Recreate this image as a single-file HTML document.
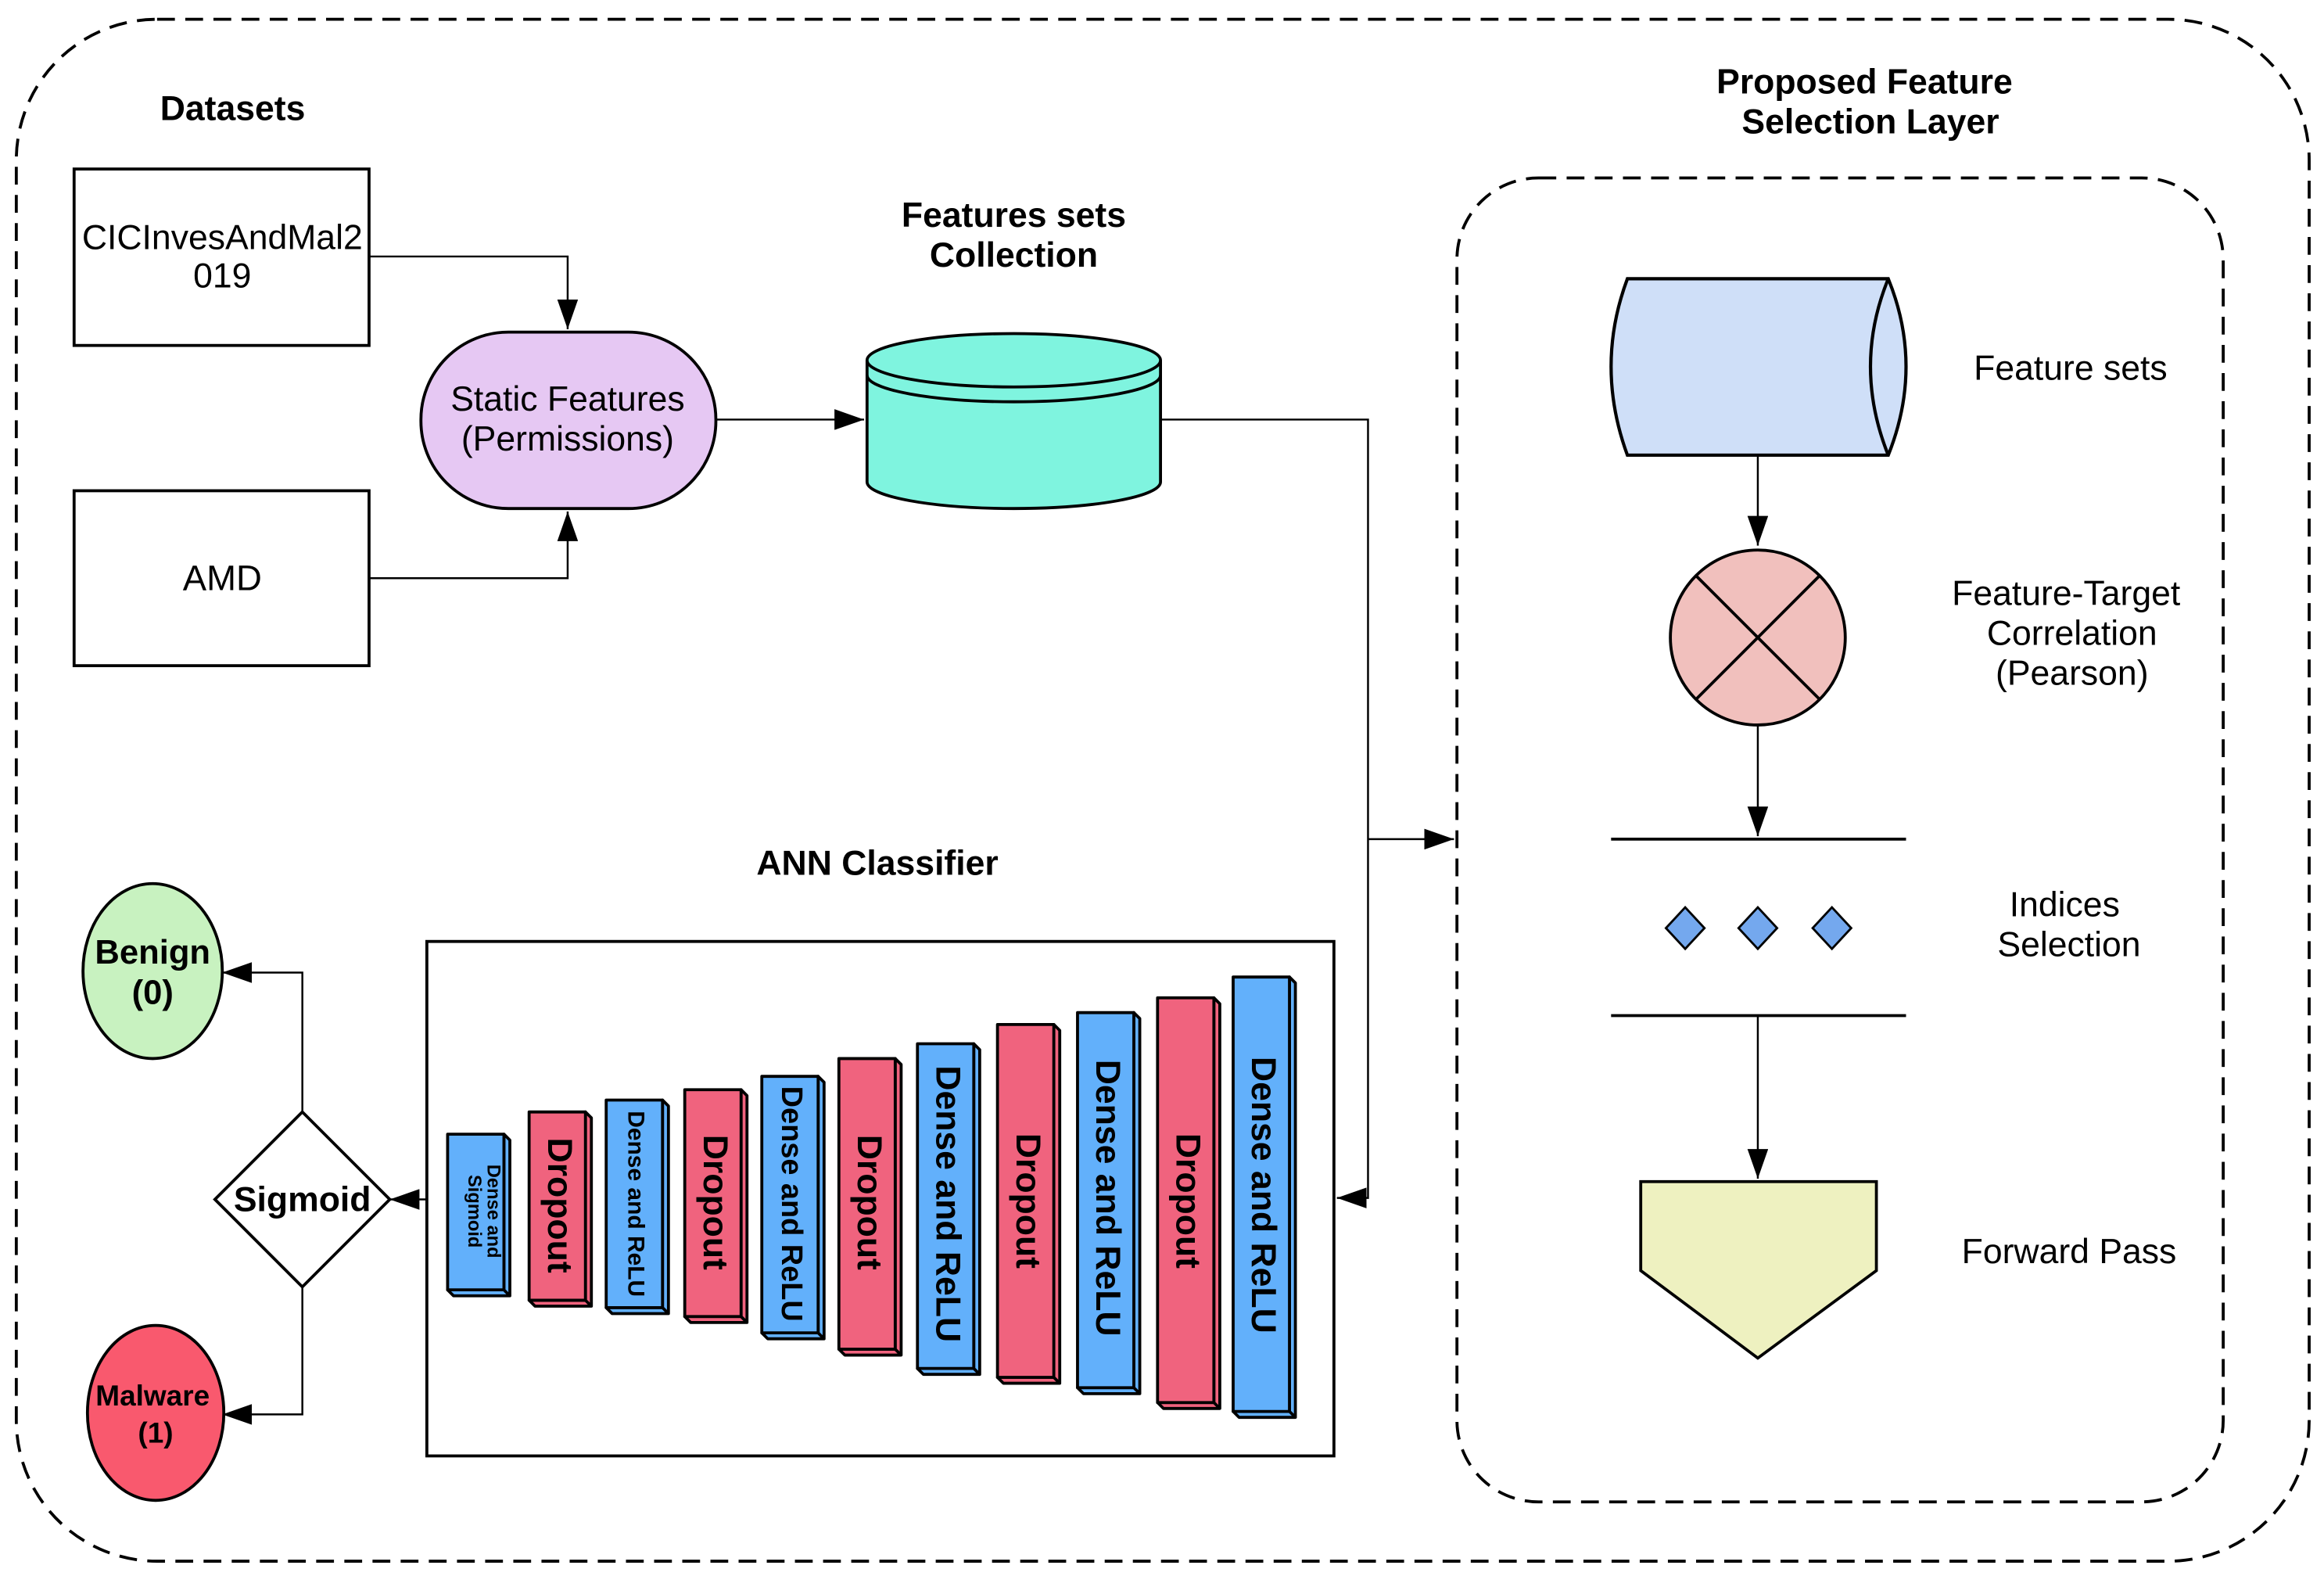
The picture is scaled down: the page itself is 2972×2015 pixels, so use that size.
<!DOCTYPE html>
<html><head><meta charset="utf-8"><style>
html,body{margin:0;padding:0;background:#fff;}
svg{display:block;}
text{font-family:"Liberation Sans",Arial,sans-serif;fill:#000;}
.b{font-weight:bold;}
</style></head><body>
<svg width="2972" height="2015" viewBox="0 0 1568 1063" preserveAspectRatio="none" xmlns="http://www.w3.org/2000/svg">
<defs>
<marker id="ar2" viewBox="0 0 20 14" refX="20" refY="7" markerWidth="20" markerHeight="14" markerUnits="userSpaceOnUse" orient="auto">
<path d="M0,0 L20,7 L0,14 z" fill="#000"/></marker>
</defs>
<rect x="0" y="0" width="1568" height="1063" fill="#fff"/>
<rect x="11" y="13" width="1547" height="1040" rx="95" ry="95" fill="none" stroke="#000" stroke-width="2" stroke-dasharray="12,7"/>
<rect x="983" y="120" width="517" height="893" rx="55" ry="55" fill="none" stroke="#000" stroke-width="2" stroke-dasharray="12,7"/>

<text x="157" y="81" class="b" font-size="23.5" text-anchor="middle">Datasets</text>
<text x="1258" y="63" class="b" font-size="23.5" text-anchor="middle">Proposed Feature</text>
<text x="1262" y="90" class="b" font-size="23.5" text-anchor="middle">Selection Layer</text>
<text x="684" y="153" class="b" font-size="23.5" text-anchor="middle">Features sets</text>
<text x="684" y="180" class="b" font-size="23.5" text-anchor="middle">Collection</text>
<text x="592" y="590" class="b" font-size="23.5" text-anchor="middle">ANN Classifier</text>

<rect x="50" y="114" width="199" height="119" fill="#fff" stroke="#000" stroke-width="2"/>
<text x="150" y="168" font-size="23.5" text-anchor="middle">CICInvesAndMal2</text>
<text x="150" y="194" font-size="23.5" text-anchor="middle">019</text>
<rect x="50" y="331" width="199" height="118" fill="#fff" stroke="#000" stroke-width="2"/>
<text x="150" y="398" font-size="24" text-anchor="middle">AMD</text>

<rect x="284" y="224" width="199" height="119" rx="59" ry="59" fill="#e6c8f3" stroke="#000" stroke-width="2"/>
<text x="383" y="277" font-size="23.5" text-anchor="middle">Static Features</text>
<text x="383" y="304" font-size="23.5" text-anchor="middle">(Permissions)</text>

<path d="M249,173 H383 V222" fill="none" stroke="#000" stroke-width="1.3" marker-end="url(#ar2)"/>
<path d="M249,390 H383 V345" fill="none" stroke="#000" stroke-width="1.3" marker-end="url(#ar2)"/>
<path d="M483,283 H583" fill="none" stroke="#000" stroke-width="1.3" marker-end="url(#ar2)"/>

<path d="M585,243 V325 A99,18 0 0 0 783,325 V243" fill="#7ff4df" stroke="#000" stroke-width="2"/>
<ellipse cx="684" cy="243" rx="99" ry="18" fill="#7ff4df" stroke="#000" stroke-width="2"/>
<path d="M585,253 A99,18 0 0 0 783,253" fill="none" stroke="#000" stroke-width="2"/>

<path d="M783,283 H923 V808 H902" fill="none" stroke="#000" stroke-width="1.3" marker-end="url(#ar2)"/>
<path d="M923,566 H981" fill="none" stroke="#000" stroke-width="1.3" marker-end="url(#ar2)"/>

<path d="M1098,188 H1274 Q1298,247 1274,307 H1098 Q1076,247 1098,188 z" fill="#cfdff8" stroke="#000" stroke-width="2.2"/>
<path d="M1274,188 Q1250,247 1274,307" fill="none" stroke="#000" stroke-width="2.2"/>
<text x="1397" y="256" font-size="23.5" text-anchor="middle">Feature sets</text>
<path d="M1186,307 V368" fill="none" stroke="#000" stroke-width="1.3" marker-end="url(#ar2)"/>

<circle cx="1186" cy="430" r="59" fill="#f1c0bd" stroke="#000" stroke-width="2"/>
<path d="M1144,388 L1228,472 M1228,388 L1144,472" stroke="#000" stroke-width="2"/>
<text x="1394" y="408" font-size="23.5" text-anchor="middle">Feature-Target</text>
<text x="1398" y="435" font-size="23.5" text-anchor="middle">Correlation</text>
<text x="1398" y="462" font-size="23.5" text-anchor="middle">(Pearson)</text>
<path d="M1186,489 V564" fill="none" stroke="#000" stroke-width="1.3" marker-end="url(#ar2)"/>

<line x1="1087" y1="566" x2="1286" y2="566" stroke="#000" stroke-width="2"/>
<line x1="1087" y1="685" x2="1286" y2="685" stroke="#000" stroke-width="2"/>
<path d="M1137,612 L1150,626 L1137,640 L1124,626 z" fill="#74a8ee" stroke="#000" stroke-width="1.5"/>
<path d="M1186,612 L1199,626 L1186,640 L1173,626 z" fill="#74a8ee" stroke="#000" stroke-width="1.5"/>
<path d="M1236,612 L1249,626 L1236,640 L1223,626 z" fill="#74a8ee" stroke="#000" stroke-width="1.5"/>
<text x="1393" y="618" font-size="23.5" text-anchor="middle">Indices</text>
<text x="1396" y="645" font-size="23.5" text-anchor="middle">Selection</text>
<path d="M1186,685 V795" fill="none" stroke="#000" stroke-width="1.3" marker-end="url(#ar2)"/>

<path d="M1107,797 H1266 V857 L1186,916 L1107,857 z" fill="#eef1c0" stroke="#000" stroke-width="2"/>
<text x="1396" y="852" font-size="23.5" text-anchor="middle">Forward Pass</text>

<rect x="288" y="635" width="612" height="347" fill="#fff" stroke="#000" stroke-width="2"/>

<g stroke="#000" stroke-width="2" stroke-linejoin="round">
<path d="M340,765 L344,769 V874 L340,870 z M302,870 L306,874 H344 L340,870 z" fill="#62b0fb"/>
<rect x="302" y="765" width="38" height="105" fill="#62b0fb"/>
<path d="M395,750 L399,754 V881 L395,877 z M357,877 L361,881 H399 L395,877 z" fill="#f0637e"/>
<rect x="357" y="750" width="38" height="127" fill="#f0637e"/>
<path d="M447,742 L451,746 V886 L447,882 z M409,882 L413,886 H451 L447,882 z" fill="#62b0fb"/>
<rect x="409" y="742" width="38" height="140" fill="#62b0fb"/>
<path d="M500,735 L504,739 V892 L500,888 z M462,888 L466,892 H504 L500,888 z" fill="#f0637e"/>
<rect x="462" y="735" width="38" height="153" fill="#f0637e"/>
<path d="M552,726 L556,730 V903 L552,899 z M514,899 L518,903 H556 L552,899 z" fill="#62b0fb"/>
<rect x="514" y="726" width="38" height="173" fill="#62b0fb"/>
<path d="M604,714 L608,718 V914 L604,910 z M566,910 L570,914 H608 L604,910 z" fill="#f0637e"/>
<rect x="566" y="714" width="38" height="196" fill="#f0637e"/>
<path d="M657,704 L661,708 V927 L657,923 z M619,923 L623,927 H661 L657,923 z" fill="#62b0fb"/>
<rect x="619" y="704" width="38" height="219" fill="#62b0fb"/>
<path d="M711,691 L715,695 V933 L711,929 z M673,929 L677,933 H715 L711,929 z" fill="#f0637e"/>
<rect x="673" y="691" width="38" height="238" fill="#f0637e"/>
<path d="M765,683 L769,687 V940 L765,936 z M727,936 L731,940 H769 L765,936 z" fill="#62b0fb"/>
<rect x="727" y="683" width="38" height="253" fill="#62b0fb"/>
<path d="M819,673 L823,677 V950 L819,946 z M781,946 L785,950 H823 L819,946 z" fill="#f0637e"/>
<rect x="781" y="673" width="38" height="273" fill="#f0637e"/>
<path d="M870,659 L874,663 V956 L870,952 z M832,952 L836,956 H874 L870,952 z" fill="#62b0fb"/>
<rect x="832" y="659" width="38" height="293" fill="#62b0fb"/>
</g>
<g class="b">
<text transform="translate(321,817) rotate(90)" font-size="12.5" font-weight="bold" text-anchor="middle"><tspan x="0" dy="-8">Dense and</tspan><tspan x="0" dy="13">Sigmoid</tspan></text>
<text transform="translate(376,813) rotate(90)" font-size="23.5" text-anchor="middle" dominant-baseline="middle" font-weight="bold">Dropout</text>
<text transform="translate(428,812) rotate(90)" font-size="15.8" text-anchor="middle" dominant-baseline="middle" font-weight="bold">Dense and ReLU</text>
<text transform="translate(481,811) rotate(90)" font-size="23.5" text-anchor="middle" dominant-baseline="middle" font-weight="bold">Dropout</text>
<text transform="translate(533,812) rotate(90)" font-size="20" text-anchor="middle" dominant-baseline="middle" font-weight="bold">Dense and ReLU</text>
<text transform="translate(585,811) rotate(90)" font-size="23.5" text-anchor="middle" dominant-baseline="middle" font-weight="bold">Dropout</text>
<text transform="translate(638,812) rotate(90)" font-size="23.5" text-anchor="middle" dominant-baseline="middle" font-weight="bold">Dense and ReLU</text>
<text transform="translate(692,810) rotate(90)" font-size="23.5" text-anchor="middle" dominant-baseline="middle" font-weight="bold">Dropout</text>
<text transform="translate(746,808) rotate(90)" font-size="23.5" text-anchor="middle" dominant-baseline="middle" font-weight="bold">Dense and ReLU</text>
<text transform="translate(800,810) rotate(90)" font-size="23.5" text-anchor="middle" dominant-baseline="middle" font-weight="bold">Dropout</text>
<text transform="translate(851,806) rotate(90)" font-size="23.5" text-anchor="middle" dominant-baseline="middle" font-weight="bold">Dense and ReLU</text>
</g>

<path d="M288,809 H263" fill="none" stroke="#000" stroke-width="1.3" marker-end="url(#ar2)"/>
<path d="M204,750 L263,809 L204,868 L145,809 z" fill="#fff" stroke="#000" stroke-width="2"/>
<text x="204" y="817" class="b" font-size="23.5" text-anchor="middle">Sigmoid</text>
<path d="M204,750 V656 H150" fill="none" stroke="#000" stroke-width="1.3" marker-end="url(#ar2)"/>
<path d="M204,868 V954 H150" fill="none" stroke="#000" stroke-width="1.3" marker-end="url(#ar2)"/>

<ellipse cx="103" cy="655" rx="47" ry="59" fill="#c8f2c0" stroke="#000" stroke-width="2"/>
<text x="103" y="650" class="b" font-size="23" text-anchor="middle">Benign</text>
<text x="103" y="677" class="b" font-size="23" text-anchor="middle">(0)</text>
<ellipse cx="105" cy="953" rx="46" ry="59" fill="#f9596e" stroke="#000" stroke-width="2"/>
<text x="103" y="948" class="b" font-size="19.5" text-anchor="middle">Malware</text>
<text x="105" y="973" class="b" font-size="19.5" text-anchor="middle">(1)</text>
</svg>
</body></html>
